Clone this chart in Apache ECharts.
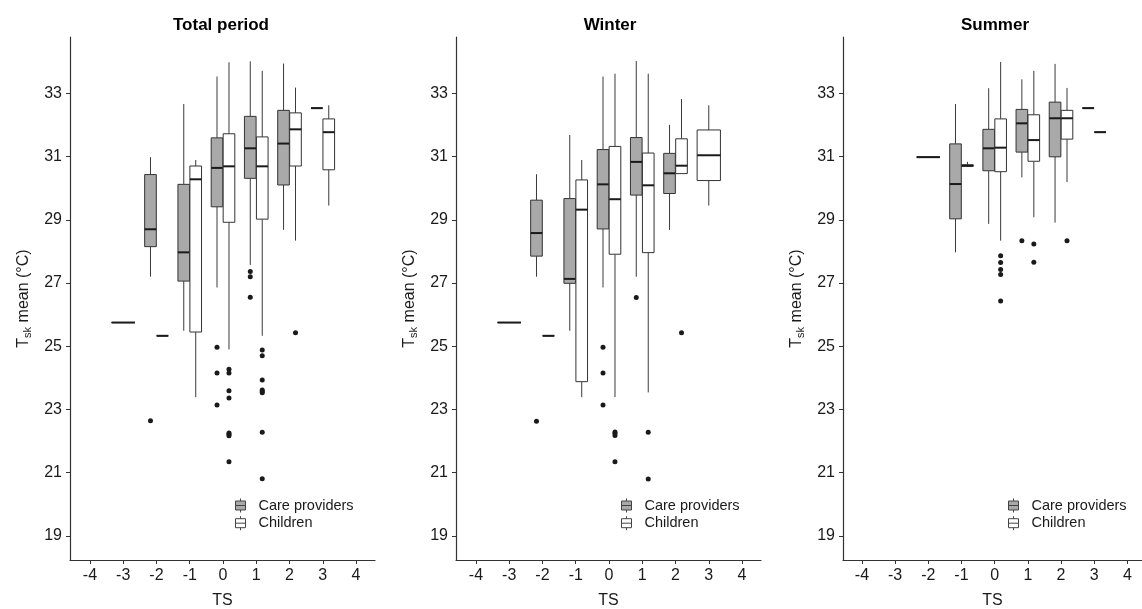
<!DOCTYPE html>
<html><head><meta charset="utf-8">
<script src="https://cdn.jsdelivr.net/npm/echarts@6/dist/echarts.min.js"></script>
<style>html,body{margin:0;padding:0;background:#fff}#c{width:1142px;height:609px}</style>
</head><body><div id="c"></div>
<script>
const panelTitles = ['Total period', 'Winter', 'Summer'];
const groupNames = ['Care providers', 'Children'];
const xTicks = [-4, -3, -2, -1, 0, 1, 2, 3, 4];
const yTicks = [19, 21, 23, 25, 27, 29, 31, 33];

// [TS, min, q1, median, q3, max]
const totalCare = [
  [-3, 25.75, 25.75, 25.75, 25.75, 25.75],
  [-2, 27.20, 28.15, 28.70, 30.43, 30.98],
  [-1, 25.49, 27.06, 27.97, 30.12, 32.66],
  [0, 26.86, 29.41, 30.64, 31.59, 33.53],
  [1, 27.57, 30.31, 31.26, 32.27, 34.01],
  [2, 28.68, 30.10, 31.41, 32.46, 33.94],
  [3, 32.53, 32.53, 32.53, 32.53, 32.53]
];
const totalChild = [
  [-2, 25.33, 25.33, 25.33, 25.33, 25.33],
  [-1, 23.39, 25.45, 30.28, 30.70, 30.89],
  [0, 24.90, 28.92, 30.69, 31.72, 33.98],
  [1, 25.33, 29.02, 30.69, 31.62, 33.71],
  [2, 28.34, 30.70, 31.86, 32.38, 33.18],
  [3, 29.45, 30.58, 31.77, 32.19, 32.62]
];
const totalCareOut = [[-2, 22.64], [0, 24.97], [0, 24.15], [0, 23.14], [1, 27.36], [1, 27.20], [1, 26.55]];
const totalChildOut = [[0, 24.27], [0, 24.15], [0, 23.59], [0, 23.36], [0, 22.26], [0, 22.22], [0, 22.17], [0, 21.35],
  [1, 24.88], [1, 24.70], [1, 23.93], [1, 23.62], [1, 23.57], [1, 23.53], [1, 22.28], [1, 20.81], [2, 25.43]];

const winterCare = [
  [-3, 25.75, 25.75, 25.75, 25.75, 25.75],
  [-2, 27.20, 27.85, 28.58, 29.62, 30.44],
  [-1, 25.49, 26.99, 27.13, 29.67, 31.68],
  [0, 26.86, 28.71, 30.12, 31.22, 33.53],
  [1, 27.20, 29.78, 30.83, 31.60, 34.02],
  [2, 28.68, 29.83, 30.47, 31.10, 32.00]
];
const winterChild = [
  [-2, 25.33, 25.33, 25.33, 25.33, 25.33],
  [-1, 23.39, 23.88, 29.32, 30.26, 30.89],
  [0, 23.39, 27.91, 29.65, 31.32, 33.62],
  [1, 23.54, 27.96, 30.09, 31.11, 33.62],
  [2, 30.46, 30.46, 30.71, 31.56, 32.82],
  [3, 29.45, 30.24, 31.04, 31.84, 32.62]
];
const winterCareOut = [[-2, 22.63], [0, 24.97], [0, 24.15], [0, 23.14], [1, 26.54]];
const winterChildOut = [[0, 22.29], [0, 22.25], [0, 22.18], [0, 21.35], [1, 22.28], [1, 20.80], [2, 25.43]];

const summerCare = [
  [-2, 30.98, 30.98, 30.98, 30.98, 30.98],
  [-1, 27.97, 29.03, 30.13, 31.40, 32.66],
  [0, 28.87, 30.55, 31.26, 31.86, 33.16],
  [1, 30.34, 31.14, 32.05, 32.49, 33.44],
  [2, 28.91, 30.99, 32.21, 32.72, 33.93],
  [3, 32.53, 32.53, 32.53, 32.53, 32.53]
];
const summerChild = [
  [-1, 30.68, 30.69, 30.71, 30.74, 30.83],
  [0, 28.34, 30.52, 31.28, 32.19, 33.99],
  [1, 29.08, 30.85, 31.52, 32.32, 33.71],
  [2, 30.19, 31.55, 32.21, 32.46, 33.17],
  [3, 31.77, 31.77, 31.77, 31.77, 31.77]
];
const summerCareOut = [[1, 28.34]];
const summerChildOut = [[0, 27.86], [0, 27.65], [0, 27.43], [0, 27.27], [0, 26.43], [1, 28.23], [1, 27.66], [2, 28.34]];

const panels = [
  { care: totalCare, child: totalChild, careOut: totalCareOut, childOut: totalChildOut },
  { care: winterCare, child: winterChild, careOut: winterCareOut, childOut: winterChildOut },
  { care: summerCare, child: summerChild, careOut: summerCareOut, childOut: summerChildOut }
];

const FONT = 'Liberation Sans, Arial, sans-serif';
const gridDefs = [
  { left: 70, width: 305, xmin: -4.6, xmax: 4.57, titleX: 216 },
  { left: 456, width: 305, xmin: -4.6, xmax: 4.57, titleX: 605 },
  { left: 843, width: 299, xmin: -4.57, xmax: 4.44, titleX: 990 }
];
const DODGE = 0.18, HALF_W = 0.35, FULL_W = 0.7;
const fills = ['#a9a9a9', '#ffffff'];

function has(arr, ts) { return arr.some(r => r[0] === ts); }
function place(rows, other, sign) {
  return rows.map(r => {
    const both = has(other, r[0]);
    return [r[0] + (both ? sign * DODGE : 0), r[1], r[2], r[3], r[4], r[5], both ? HALF_W : FULL_W];
  });
}
function placeOut(pts, own, other, sign) {
  return pts.map(p => [p[0] + (has(other, p[0]) && has(own, p[0]) ? sign * DODGE : 0), p[1]]);
}

function renderBox(params, api) {
  const x = api.value(0), w = api.value(6);
  const pMin = api.coord([x, api.value(1)]);
  const pQ1 = api.coord([x, api.value(2)]);
  const pMed = api.coord([x, api.value(3)]);
  const pQ3 = api.coord([x, api.value(4)]);
  const pMax = api.coord([x, api.value(5)]);
  const hw = api.size([w, 0])[0] / 2;
  const fill = api.visual('color');
  return {
    type: 'group', children: [
      { type: 'line', shape: { x1: pMax[0], y1: pMax[1], x2: pQ3[0], y2: pQ3[1] }, style: { stroke: '#3a3a3a', lineWidth: 1 } },
      { type: 'line', shape: { x1: pQ1[0], y1: pQ1[1], x2: pMin[0], y2: pMin[1] }, style: { stroke: '#3a3a3a', lineWidth: 1 } },
      { type: 'rect', shape: { x: pQ3[0] - hw, y: pQ3[1], width: 2 * hw, height: pQ1[1] - pQ3[1] }, style: { fill: fill, stroke: '#333', lineWidth: 1 } },
      { type: 'line', shape: { x1: pMed[0] - hw, y1: pMed[1], x2: pMed[0] + hw, y2: pMed[1] }, style: { stroke: '#1a1a1a', lineWidth: 2 } }
    ]
  };
}

const iconPath = 'path://M18,7M0,2.5h10v9h-10zM0,7h10M5,0v2.5M5,11.5v2.5';

const option = {
  animation: false,
  backgroundColor: '#fff',
  title: [], grid: [], xAxis: [], yAxis: [], legend: [], series: []
};

panels.forEach((p, i) => {
  const g = gridDefs[i];
  option.title.push({
    text: panelTitles[i], left: g.titleX, top: 12, textAlign: 'center',
    textStyle: { fontFamily: FONT, fontSize: 17, fontWeight: 'bold', color: '#000' }
  });
  option.grid.push({ left: g.left, top: 37, width: g.width, height: 523, containLabel: false, outerBoundsMode: 'none' });
  option.xAxis.push({
    type: 'value', gridIndex: i, min: g.xmin, max: g.xmax,
    splitLine: { show: false },
    axisLine: { show: true, onZero: false, lineStyle: { color: '#333', width: 1.2 } },
    axisTick: { show: true, customValues: xTicks, length: 4, lineStyle: { color: '#333' } },
    axisLabel: { customValues: xTicks, fontFamily: FONT, fontSize: 16, color: '#1a1a1a', margin: 8 },
    name: 'TS', nameLocation: 'middle', nameGap: 33,
    nameTextStyle: { fontFamily: FONT, fontSize: 16, color: '#1a1a1a' }
  });
  option.yAxis.push({
    type: 'value', gridIndex: i, min: 18.24, max: 34.78,
    splitLine: { show: false },
    axisLine: { show: true, onZero: false, lineStyle: { color: '#333', width: 1.2 } },
    axisTick: { show: true, customValues: yTicks, length: 4, lineStyle: { color: '#333' } },
    axisLabel: { customValues: yTicks, fontFamily: FONT, fontSize: 16, color: '#1a1a1a', margin: 8 },
    name: '{a|T}{b|sk}{a| mean (°C)}', nameLocation: 'middle', nameRotate: 90, nameGap: 37,
    nameTextStyle: {
      fontFamily: FONT, color: '#1a1a1a',
      rich: {
        a: { fontFamily: FONT, fontSize: 16, color: '#1a1a1a', lineHeight: 17, verticalAlign: 'top' },
        b: { fontFamily: FONT, fontSize: 11, color: '#1a1a1a', lineHeight: 11, verticalAlign: 'bottom' }
      }
    }
  });
  option.legend.push({
    orient: 'vertical', left: g.left + 165, top: 498, padding: 0,
    itemWidth: 18, itemHeight: 14, itemGap: 2.7,
    textStyle: { fontFamily: FONT, fontSize: 14.5, color: '#1a1a1a' },
    data: groupNames.map((n, k) => ({ name: n, icon: iconPath, itemStyle: { color: fills[k], borderColor: '#444', borderWidth: 1 } }))
  });
  const groups = [[p.care, p.child, p.careOut, -1], [p.child, p.care, p.childOut, 1]];
  groups.forEach((gr, k) => {
    option.series.push({
      type: 'custom', name: groupNames[k], xAxisIndex: i, yAxisIndex: i,
      renderItem: renderBox, clip: false,
      itemStyle: { color: fills[k], borderColor: '#333' },
      encode: { x: 0, y: [1, 2, 3, 4, 5] },
      data: place(gr[0], gr[1], gr[3])
    });
    option.series.push({
      type: 'scatter', name: 'outliers', xAxisIndex: i, yAxisIndex: i,
      symbolSize: 5, itemStyle: { color: '#1a1a1a', opacity: 1 },
      data: placeOut(gr[2], gr[0], gr[1], gr[3])
    });
  });
});

const chart = echarts.init(document.getElementById('c'), null, { renderer: 'canvas' });
chart.setOption(option);
</script>
</body></html>
